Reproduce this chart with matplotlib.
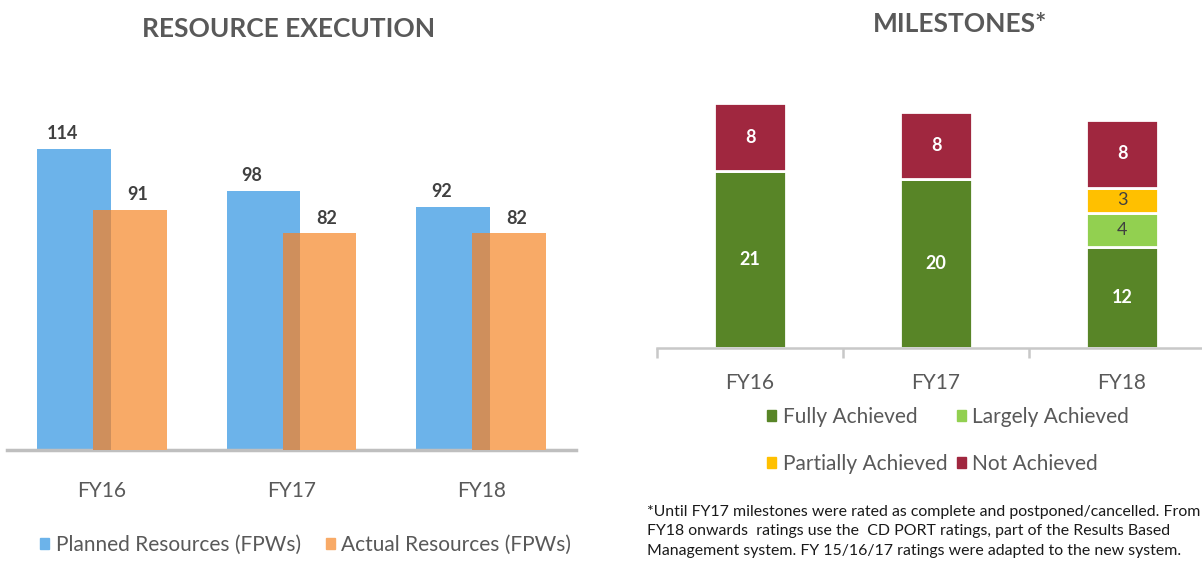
import matplotlib
matplotlib.use("Agg")
from matplotlib import pyplot as plt
from matplotlib.patches import Patch
import numpy as np

plt.rcParams["font.family"] = ["Lato", "DejaVu Sans"]

# resource execution data
years = ["FY16", "FY17", "FY18"]
planned = [114, 98, 92]
actual = [91, 82, 82]

# milestone data (bottom to top)
fully = [21, 20, 12]
largely = [0, 0, 4]
partially = [0, 0, 3]
not_achieved = [8, 8, 8]

footnote = ("*Until FY17 milestones were rated as complete and postponed/cancelled. From\n"
            "FY18 onwards  ratings use the  CD PORT ratings, part of the Results Based\n"
            "Management system. FY 15/16/17 ratings were adapted to the new system.")

GREY_TXT = "#595959"
BLUE = "#6cb3ea"
ORANGE = "#f8aa67"
OVERLAP = "#cf8f5c"
DKGREEN = "#588527"
LTGREEN = "#92d050"
YELLOW = "#ffc000"
RED = "#a0273f"

W, H = 1202, 567
fig = plt.figure(figsize=(W / 100, H / 100), dpi=100)

# ---------------- left chart ----------------
ax1 = fig.add_axes([7 / W, 117 / H, 569 / W, 370 / H])
x = np.arange(len(years))
bw = 0.388
off = 0.148
ax1.bar(x - off, planned, bw, color=BLUE, zorder=2)
ax1.bar(x + off, actual, bw, color=ORANGE, zorder=3)
# darker strip where the two bars overlap
ov_w = bw - 2 * off
ov_h = np.minimum(planned, actual)
ax1.bar(x, ov_h, ov_w, color=OVERLAP, zorder=4)

for i in range(len(years)):
    ax1.text(x[i] - off - 0.06, planned[i] + 2.5, str(planned[i]), ha="center", va="bottom",
             fontsize=13, fontweight="bold", color="#404040")
    ax1.text(x[i] + off + 0.04, actual[i] + 2.5, str(actual[i]), ha="center", va="bottom",
             fontsize=13, fontweight="bold", color="#404040")

ax1.set_xlim(-0.5, 2.5)
ax1.set_ylim(0, 140)
for s in ["top", "left", "right"]:
    ax1.spines[s].set_visible(False)
ax1.spines["bottom"].set_color("#bfbfbf")
ax1.spines["bottom"].set_linewidth(2.5)
ax1.set_yticks([])
ax1.set_xticks(x)
ax1.set_xticklabels(years, fontsize=15, color=GREY_TXT)
ax1.tick_params(axis="x", length=0, pad=22)

fig.text(289 / W, 1 - 29 / H, "RESOURCE EXECUTION", ha="center", va="center",
         fontsize=19, fontweight="bold", color=GREY_TXT)

leg1 = fig.legend(handles=[Patch(color=BLUE, label="Planned Resources (FPWs)"),
                           Patch(color=ORANGE, label="Actual Resources (FPWs)")],
                  loc="center left", bbox_to_anchor=(40 / W, 22 / H), ncol=2,
                  frameon=False, fontsize=15, handlelength=0.45, handleheight=0.45,
                  handletextpad=0.3, columnspacing=1.2, borderpad=0, borderaxespad=0)
for t in leg1.get_texts():
    t.set_color(GREY_TXT)

# ---------------- right chart ----------------
ax2 = fig.add_axes([657 / W, 219 / H, 558 / W, 270 / H])
sbw = 0.387
bottom = np.zeros(len(years))
segs = [(fully, DKGREEN, "white", "bold"),
        (largely, LTGREEN, "#404040", "normal"),
        (partially, YELLOW, "#404040", "normal"),
        (not_achieved, RED, "white", "bold")]
for vals, col, tcol, tw in segs:
    vals = np.array(vals)
    ax2.bar(x, vals, sbw, bottom=bottom, color=col, edgecolor="white", linewidth=2, zorder=2)
    for i in range(len(years)):
        if vals[i] > 0:
            ax2.text(x[i], bottom[i] + vals[i] / 2, str(vals[i]), ha="center", va="center",
                     fontsize=13, fontweight=tw, color=tcol, zorder=3)
    bottom += vals

ax2.set_xlim(-0.5, 2.5)
ax2.set_ylim(0, 32)
for s in ["top", "left", "right"]:
    ax2.spines[s].set_visible(False)
ax2.spines["bottom"].set_color("#c8c8c8")
ax2.spines["bottom"].set_linewidth(1.8)
ax2.set_yticks([])
ax2.set_xticks(x)
ax2.set_xticklabels(years, fontsize=15, color=GREY_TXT)
ax2.set_xticks([-0.5, 0.5, 1.5, 2.5], minor=True)
ax2.tick_params(axis="x", which="major", length=0, pad=18)
ax2.tick_params(axis="x", which="minor", length=7, width=1.8, color="#c8c8c8", direction="out")

fig.text(960 / W, 1 - 24 / H, "MILESTONES*", ha="center", va="center",
         fontsize=19, fontweight="bold", color=GREY_TXT)

leg2 = fig.legend(handles=[Patch(color=DKGREEN, label="Fully Achieved"),
                           Patch(color=YELLOW, label="Partially Achieved"),
                           Patch(color=LTGREEN, label="Largely Achieved"),
                           Patch(color=RED, label="Not Achieved")],
                  loc="center left", bbox_to_anchor=(767 / W, (H - 440.5) / H), ncol=2,
                  frameon=False, fontsize=15, handlelength=0.45, handleheight=0.45,
                  handletextpad=0.3, columnspacing=0.45, labelspacing=1.3,
                  borderpad=0, borderaxespad=0)
for t in leg2.get_texts():
    t.set_color(GREY_TXT)

fig.text(647 / W, (H - 505) / H, footnote, ha="left", va="top", fontsize=11.4,
         color="#1a1a1a", linespacing=1.5)

fig.savefig("out.png", dpi=100)
